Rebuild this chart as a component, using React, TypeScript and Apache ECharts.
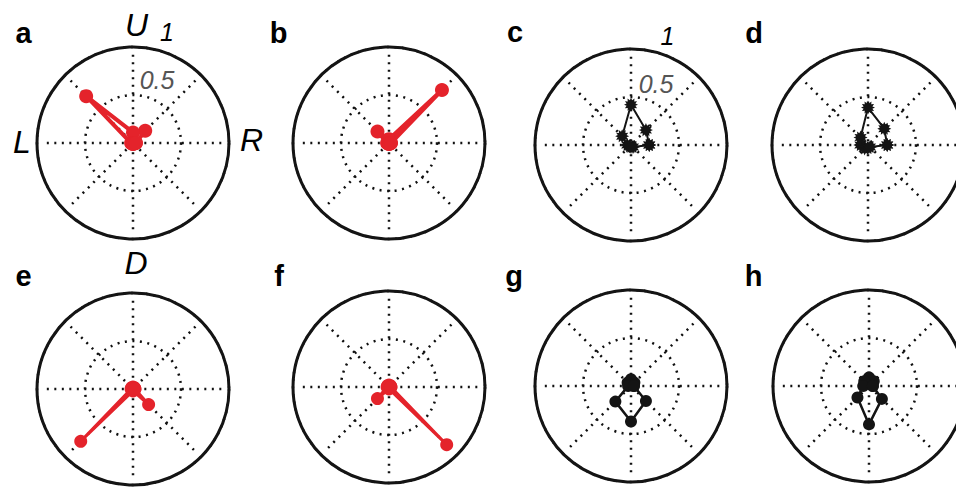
import React, { useEffect, useRef } from "react";
import * as echarts from "echarts";

// Directions in degrees (R = 0, U = 90, L = 180, D = 270)
const ANGLES = [0, 45, 90, 135, 180, 225, 270, 315];

// Normalised amplitude per direction, one array per panel
const PANEL_A = [0.03, 0.18, 0.11, 0.69, 0.02, 0.01, 0.01, 0.01];
const PANEL_B = [0.02, 0.78, 0.04, 0.17, 0.02, 0.01, 0.01, 0.01];
const PANEL_C = [0.19, 0.22, 0.42, 0.13, 0.04, 0.02, 0.02, 0.03];
const PANEL_D = [0.2, 0.24, 0.39, 0.11, 0.08, 0.05, 0.03, 0.03];
const PANEL_E = [0.02, 0.02, 0.02, 0.02, 0.02, 0.77, 0.02, 0.23];
const PANEL_F = [0.02, 0.02, 0.02, 0.02, 0.02, 0.17, 0.02, 0.85];
const PANEL_G = [0.03, 0.05, 0.07, 0.05, 0.03, 0.23, 0.37, 0.22];
const PANEL_H = [0.04, 0.07, 0.09, 0.07, 0.06, 0.17, 0.4, 0.19];

const PANEL_LETTERS = ["a", "b", "c", "d", "e", "f", "g", "h"];
const GRID_ANGLES = [0, 45, 90, 135];

const RED = "#e4232b";
const BLACK = "#141414";

function starPath(): string {
  const n = 12;
  const pts: string[] = [];
  for (let i = 0; i < n * 2; i++) {
    const r = i % 2 === 0 ? 10 : 6.5;
    const a = (Math.PI * i) / n;
    pts.push(`${(10 + r * Math.cos(a)).toFixed(2)} ${(10 + r * Math.sin(a)).toFixed(2)}`);
  }
  return "path://M" + pts.join(" L") + " Z";
}

export default function App() {
  const ref = useRef<HTMLDivElement>(null);

  useEffect(() => {
    if (!ref.current) return;
    const chart = echarts.init(ref.current, null, { renderer: "svg" });
    const star = starPath();

    const panels = [
      { data: PANEL_A, center: [133, 143], color: RED, symbol: "circle", size: 14, width: 4 },
      { data: PANEL_B, center: [389, 143], color: RED, symbol: "circle", size: 14, width: 4 },
      { data: PANEL_C, center: [631, 145], color: BLACK, symbol: star, size: 14, width: 2 },
      { data: PANEL_D, center: [868, 145], color: BLACK, symbol: star, size: 14, width: 2 },
      { data: PANEL_E, center: [133, 389], color: RED, symbol: "circle", size: 13, width: 3 },
      { data: PANEL_F, center: [389, 387], color: RED, symbol: "circle", size: 13, width: 3 },
      { data: PANEL_G, center: [631, 386], color: BLACK, symbol: "circle", size: 12, width: 2.5 },
      { data: PANEL_H, center: [869, 386], color: BLACK, symbol: "circle", size: 12, width: 2.5 },
    ];
    const RADIUS = 96;
    const REACH = 0.92;
    const dotted = { color: "#111", width: 2.5, type: [2, 5.5] };

    const polar: any[] = [];
    const angleAxis: any[] = [];
    const radiusAxis: any[] = [];
    const series: any[] = [];

    panels.forEach((p, i) => {
      polar.push({ center: p.center, radius: RADIUS });
      angleAxis.push({
        polarIndex: i,
        type: "value",
        min: 0,
        max: 360,
        interval: 45,
        startAngle: 0,
        clockwise: false,
        axisLine: { show: true, lineStyle: { color: BLACK, width: 3 } },
        axisTick: { show: false },
        axisLabel: { show: false },
        splitLine: { show: false },
        z: 3,
      });
      radiusAxis.push({
        polarIndex: i,
        type: "value",
        min: 0,
        max: 1,
        interval: 0.5,
        axisLine: { show: false },
        axisTick: { show: false },
        axisLabel: { show: false },
        splitLine: { show: true, lineStyle: dotted },
        z: 1,
      });
      GRID_ANGLES.forEach((a) => {
        series.push({
          type: "line",
          coordinateSystem: "polar",
          polarIndex: i,
          data: [
            [REACH, a],
            [0, a],
            [REACH, a + 180],
          ],
          symbol: "none",
          silent: true,
          lineStyle: dotted,
          z: 1,
        });
      });
      const pts = ANGLES.map((ang, k) => [p.data[k], ang]);
      pts.push([p.data[0], ANGLES[0]]);
      series.push({
        type: "line",
        coordinateSystem: "polar",
        polarIndex: i,
        data: pts,
        symbol: p.symbol,
        symbolSize: p.size,
        showAllSymbol: true,
        itemStyle: { color: p.color },
        lineStyle: { color: p.color, width: p.width },
        z: 5,
      });
    });

    const letterPos = [
      [23.5, 33],
      [278.5, 33],
      [515, 32],
      [754, 33],
      [23.5, 276],
      [279, 276],
      [514, 276],
      [753.5, 276],
    ];
    const graphic: any[] = PANEL_LETTERS.map((l, i) => ({
      type: "text",
      x: letterPos[i][0],
      y: letterPos[i][1],
      style: {
        text: l,
        font: "bold 29px 'Liberation Sans', Arial, sans-serif",
        fill: "#000",
        textAlign: "center",
        textVerticalAlign: "middle",
      },
    }));
    const italicBig = "italic 32px 'Liberation Sans', Arial, sans-serif";
    const italicSmall = "italic 25px 'Liberation Sans', Arial, sans-serif";
    const labels: [string, number, number, string, string][] = [
      ["U", 136.5, 25, italicBig, "#000"],
      ["L", 22, 142, italicBig, "#000"],
      ["R", 251.5, 140, italicBig, "#000"],
      ["D", 136, 263, italicBig, "#000"],
      ["1", 167, 32, italicSmall, "#000"],
      ["0.5", 157, 80, italicSmall, "#555"],
      ["1", 667.5, 36, italicSmall, "#000"],
      ["0.5", 656, 84, italicSmall, "#555"],
    ];
    labels.forEach(([t, x, y, font, fill]) => {
      graphic.push({
        type: "text",
        x,
        y,
        z: 10,
        style: { text: t, font, fill, textAlign: "center", textVerticalAlign: "middle" },
      });
    });

    chart.setOption({
      animation: false,
      backgroundColor: "#fff",
      polar,
      angleAxis,
      radiusAxis,
      series,
      graphic,
    });
    return () => chart.dispose();
  }, []);

  return (
    <div
      ref={ref}
      style={{ position: "fixed", left: 0, top: 0, width: 956, height: 490 }}
    />
  );
}
